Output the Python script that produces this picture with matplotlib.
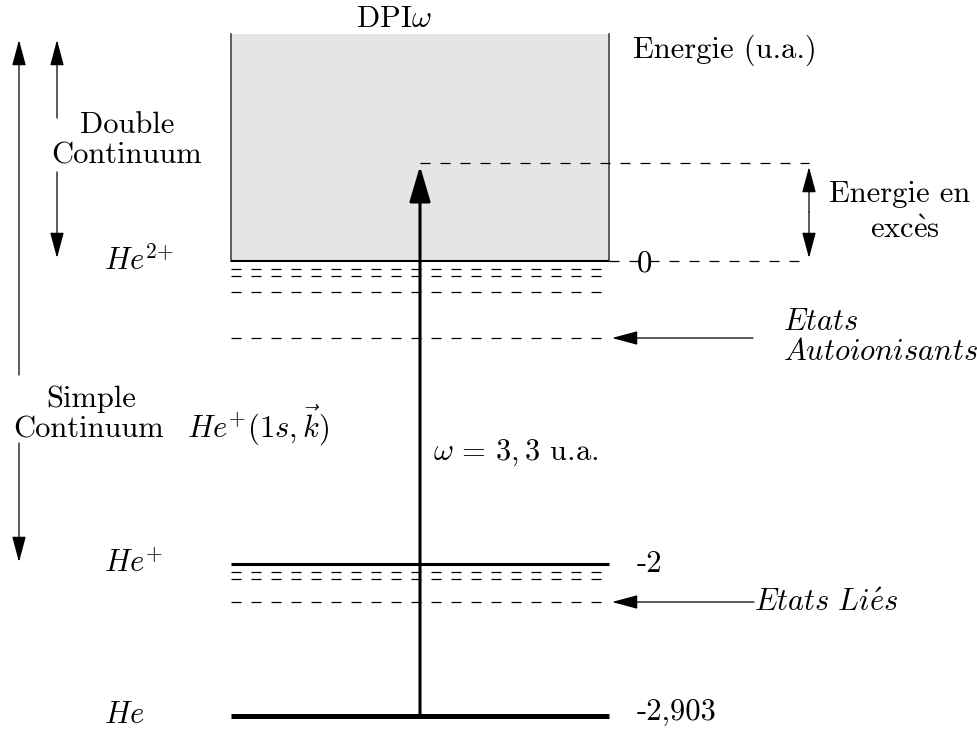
import matplotlib
matplotlib.use('Agg')
import matplotlib.pyplot as plt

plt.rcParams['mathtext.fontset'] = 'cm'
plt.rcParams['font.family'] = 'cmr10'
plt.rcParams['axes.formatter.use_mathtext'] = True
plt.rcParams['lines.scale_dashes'] = False

# diagram is drawn in pixel-like units (y grows downwards)
W, H = 977, 731
x_left, x_right = 231, 609
box_top = 34

# solid levels: He, He+, He2+ (bottom of double continuum)
level_y = [716, 564, 261]
level_lw = [3.6, 2.2, 1.5]
level_labels = [r'$He$', r'$He^{+}$', r'$He^{2{+}}$']
level_label_base = [723, 572, 270]
energy_labels = ['-2,903', '-2', '0']
energy_label_base = [720, 572, 272]

# dashed levels (autoionising states under He2+, bound states under He+)
dashed_y = [269, 276, 292, 338, 572, 579, 602]
dashed_x_end = 605

# photon
photon_x = 420
photon_top = 166
excess_y = 163
excess_x = 809

dash = (0, (7.2, 7.2))

fig = plt.figure(figsize=(W / 100, H / 100), dpi=100)
ax = fig.add_axes([0, 0, 1, 1])
ax.set_xlim(0, W)
ax.set_ylim(H, 0)
ax.axis('off')

# double continuum box
ax.fill_between([x_left, x_right], box_top, level_y[2], color='#e5e5e5', lw=0)
ax.plot([x_left, x_left], [box_top, level_y[2]], color='#333333', lw=1.1)
ax.plot([x_right, x_right], [box_top, level_y[2]], color='#333333', lw=1.1)

# levels
for y, lw in zip(level_y, level_lw):
    ax.plot([x_left, x_right], [y, y], color='black', lw=lw, solid_capstyle='butt')
for y in dashed_y:
    ax.plot([x_left, dashed_x_end], [y, y], color='black', lw=0.9, linestyle=dash)

# dashed guides on the right
ax.plot([x_right, excess_x], [level_y[2], level_y[2]], color='black', lw=0.9, linestyle=dash)
ax.plot([photon_x, excess_x], [excess_y, excess_y], color='black', lw=0.9, linestyle=dash)

thin = '-|>,head_length=1.6,head_width=0.43'


def arrow(x0, y0, x1, y1, style=thin, lw=0.9):
    ax.annotate('', xy=(x1, y1), xytext=(x0, y0),
                arrowprops=dict(arrowstyle=style, lw=lw, color='black',
                                shrinkA=0, shrinkB=0, mutation_scale=10))


# photon arrow
arrow(photon_x, level_y[0], photon_x, photon_top,
      style='-|>,head_length=2.2,head_width=0.65', lw=2.2)

# excess energy double arrow
arrow(excess_x, 212, excess_x, 167)
arrow(excess_x, 212, excess_x, 258)

# left arrows
arrow(19, 375, 19, 40)
arrow(19, 443, 19, 562)
arrow(57, 118, 57, 40)
arrow(57, 172, 57, 258)

# state arrows
arrow(753, 338, 612, 338)
arrow(754, 602, 612, 602)

fs = 22
# labels on levels
for lab, yb in zip(level_labels, level_label_base):
    ax.text(104, yb, lab, fontsize=fs, ha='left', va='baseline')
for lab, yb in zip(energy_labels, energy_label_base):
    ax.text(637, yb, lab, fontsize=fs, ha='left', va='baseline')

ax.text(394, 27, r'DPI$\omega$', fontsize=fs, ha='center', va='baseline')
ax.text(633, 58, 'Energie (u.a.)', fontsize=fs, ha='left', va='baseline')
ax.text(829, 202, 'Energie en', fontsize=fs, ha='left', va='baseline')
ax.text(905, 238, r'$\mathrm{exc}\grave{\mathrm{e}}\mathrm{s}$', fontsize=fs,
        ha='center', va='baseline')

ax.text(127, 133, 'Double', fontsize=fs, ha='center', va='baseline')
ax.text(127, 163, 'Continuum', fontsize=fs, ha='center', va='baseline')
ax.text(91, 407, 'Simple', fontsize=fs, ha='center', va='baseline')
ax.text(89, 437, 'Continuum', fontsize=fs, ha='center', va='baseline')

ax.text(187, 437, r'$He^{+}(1s,\vec{k})$', fontsize=fs, ha='left', va='baseline')
ax.text(433, 460, r'$\omega\,=\,3,3$ u.a.', fontsize=fs, ha='left', va='baseline')

ax.text(783, 330, r'$Etats$', fontsize=fs, ha='left', va='baseline')
ax.text(783, 360, r'$Autoionisants$', fontsize=fs, ha='left', va='baseline')
ax.text(754, 611, r'$Etats\ Li\acute{e}s$', fontsize=fs, ha='left', va='baseline')

fig.savefig('out.png', dpi=100)
